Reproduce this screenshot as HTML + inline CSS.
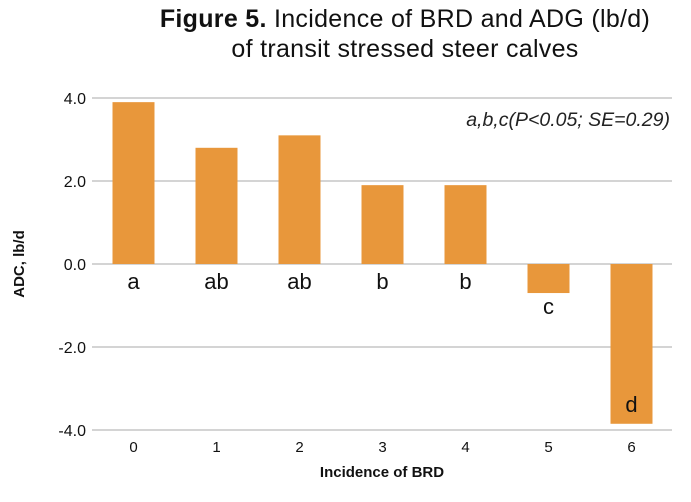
<!DOCTYPE html>
<html><head><meta charset="utf-8"><style>
body{margin:0;background:#fff;width:691px;height:497px;overflow:hidden;font-family:"Liberation Sans",sans-serif}
</style></head><body>
<svg width="691" height="497">
<text x="405" y="27" text-anchor="middle" font-size="25" letter-spacing="0.3" fill="#111"><tspan font-weight="bold">Figure 5.</tspan> Incidence of BRD and ADG (lb/d)</text>
<text x="405" y="57" text-anchor="middle" font-size="25" letter-spacing="0.3" fill="#111">of transit stressed steer calves</text>
<text x="670" y="126" text-anchor="end" font-size="19.5" font-style="italic" fill="#222">a,b,c(P&lt;0.05; SE=0.29)</text>
<g id="grid"></g><g id="bars"></g><g id="labels"></g>
<text x="382" y="477" text-anchor="middle" font-size="15" font-weight="bold" fill="#111">Incidence of BRD</text>
<text transform="translate(24,264) rotate(-90)" text-anchor="middle" font-size="15" font-weight="bold" fill="#111">ADC, lb/d</text>
</svg>
<script>
const categories=["0","1","2","3","4","5","6"];
const values=[3.9,2.8,3.1,1.9,1.9,-0.7,-3.85];
const letters=["a","ab","ab","b","b","c","d"];
const yTicks=[4,2,0,-2,-4];
const ns="http://www.w3.org/2000/svg";
const x0=92,x1=672,step=83;
const y=v=>264-v*41.5;
const xc=i=>x0+step/2+i*step;
function mk(t,a,p,txt){const e=document.createElementNS(ns,t);for(const k in a)e.setAttribute(k,a[k]);if(txt!=null)e.textContent=txt;document.getElementById(p).appendChild(e);return e;}
yTicks.forEach(t=>{
 const l=mk("line",{x1:x0,x2:x1,y1:y(t),y2:y(t),stroke:"#bbb","stroke-width":1.3},"grid");
 
 
 const tx=mk("text",{x:86,y:y(t)+6,"text-anchor":"end","font-size":16,fill:"#111"},"grid",t.toFixed(1));
 
 
});
values.forEach((v,i)=>{
 const r=mk("rect",{x:xc(i)-21,width:42,y:Math.min(y(v),y(0)),height:Math.abs(y(v)-y(0)),fill:"#E8973B"},"bars");
 
 
 const xl=mk("text",{x:xc(i),y:452,"text-anchor":"middle","font-size":15,fill:"#111"},"labels",categories[i]);
 
 
 let ly=v>=0?289:(v>-2?y(v)+21:y(v)-12);
 const lt=mk("text",{x:xc(i),y:ly,"text-anchor":"middle","font-size":22,fill:"#111"},"labels",letters[i]);
 
 
});
</script>
</body></html>
